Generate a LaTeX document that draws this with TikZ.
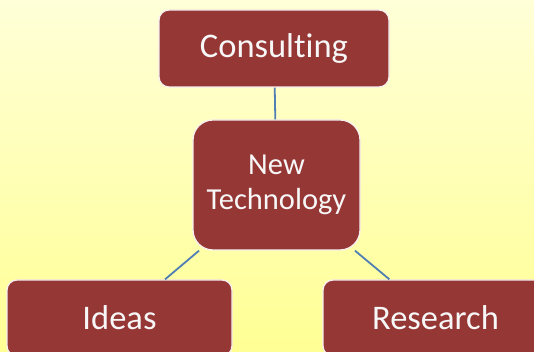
\documentclass[tikz,border=0pt]{standalone}
\usepackage{fontspec}
\setmainfont[Ligatures={NoCommon}]{Carlito}
\definecolor{bgtop}{HTML}{FFFFD8}
\definecolor{bgbot}{HTML}{FFFF94}
\definecolor{boxred}{HTML}{953735}
\definecolor{linkblue}{HTML}{4F7FB5}
\begin{document}
\begin{tikzpicture}[x=1pt,y=1pt,
  box/.style={draw=white!92!boxred, line width=1.3pt, fill=boxred, text=white!97!black,
    rectangle, inner sep=0pt, align=center},
  big/.style={font=\fontsize{34.5}{40}\selectfont},
  link/.style={draw=linkblue, line width=1.8pt}]
\useasboundingbox (0,0) rectangle (534,352);
\clip (0,0) rectangle (534,352);
\shade[top color=bgtop, bottom color=bgbot] (0,0) rectangle (534,352);
\node[box, big, rounded corners=10pt, minimum width=230pt, minimum height=77pt] (cons) at (274,303.5) {Consulting};
\node[box, rounded corners=20pt, minimum width=167pt, minimum height=130pt, font=\fontsize{30.5}{35}\selectfont] (nt) at (276.5,167) {New\\Technology};
\node[box, big, rounded corners=10pt, minimum width=225pt, minimum height=76pt] (ideas) at (119.5,34) {Ideas};
\node[box, big, rounded corners=10pt, minimum width=225pt, minimum height=76pt] (res) at (435.5,34) {Research};
\draw[link] (cons) -- (nt);
\draw[link] (nt) -- (ideas);
\draw[link] (nt) -- (res);
\end{tikzpicture}
\end{document}
